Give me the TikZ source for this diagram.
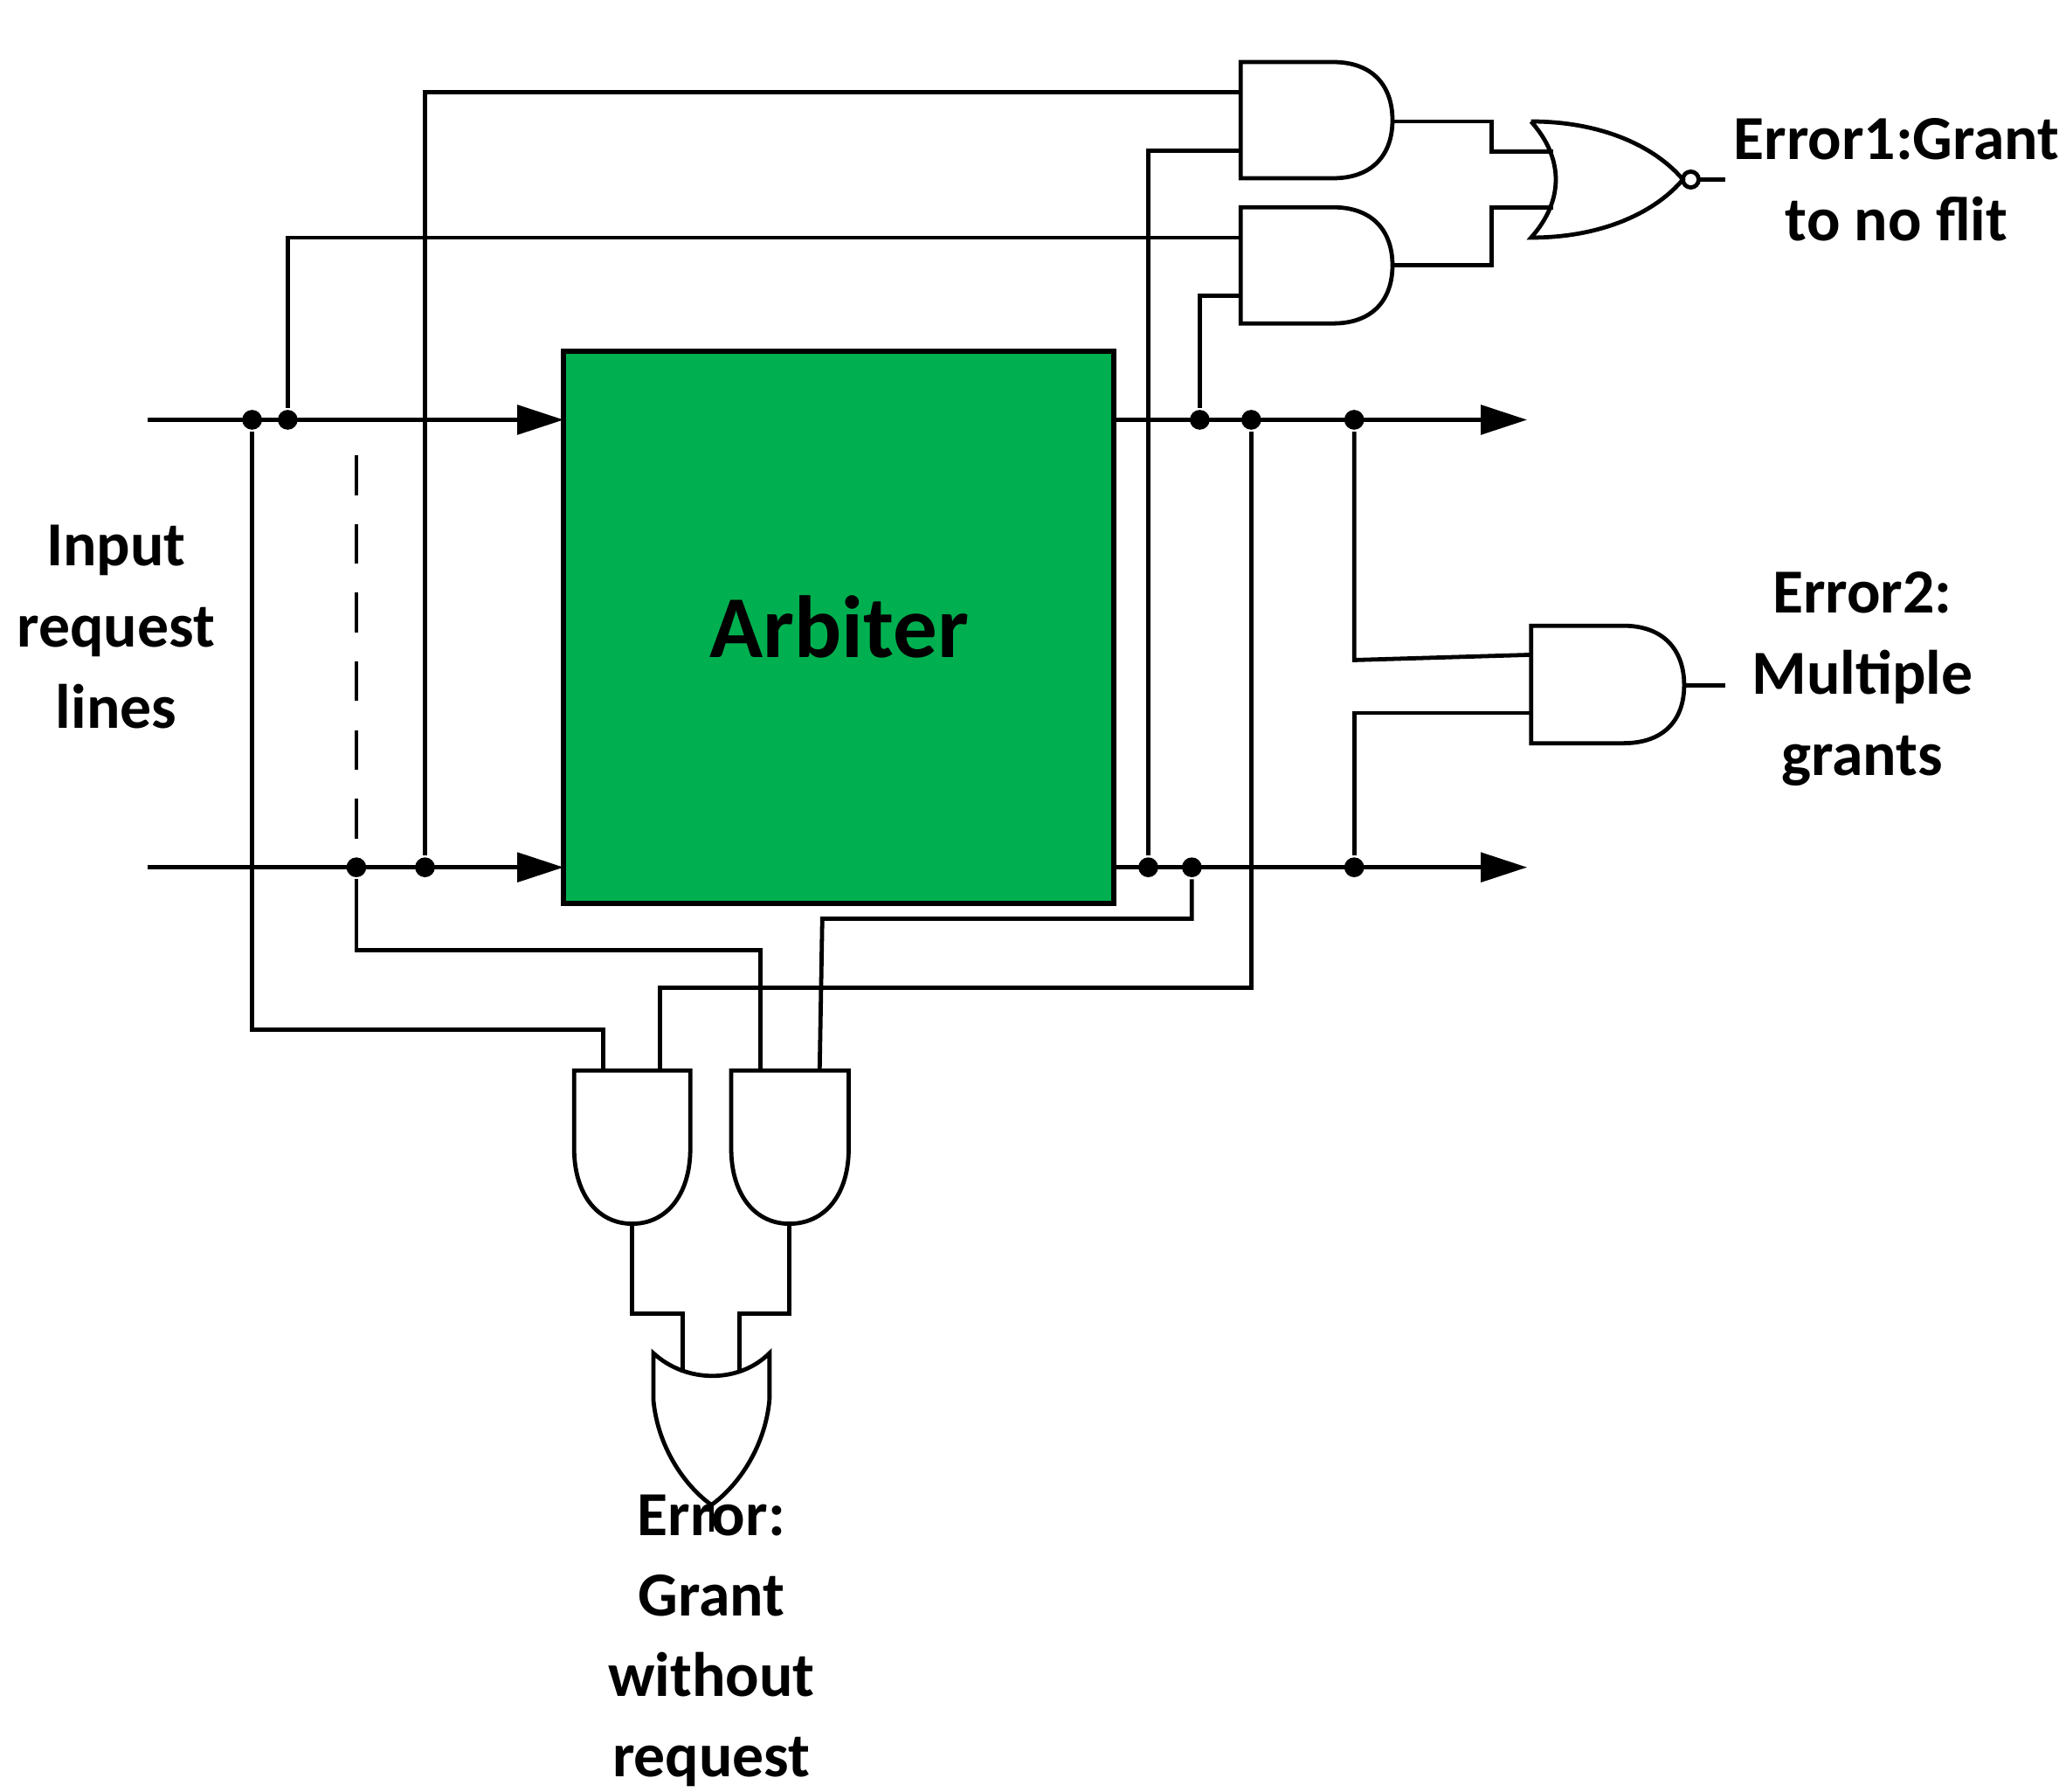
\documentclass[tikz,border=0pt]{standalone}
\usepackage{fontspec}
\setmainfont{Carlito}
\usetikzlibrary{arrows.meta}
\begin{document}
\begin{tikzpicture}[x=0.01cm,y=-0.01cm,line width=0.9pt,
  w/.style={line width=0.9pt},
  arr/.style={-{Triangle[length=0.35cm,width=0.22cm]}},
  dot/.style={circle,fill=black,inner sep=0pt,minimum size=0.15cm},
  lbl/.style={font=\bfseries\fontsize{13.5}{17.5}\selectfont,align=center}]
\useasboundingbox (0,0) rectangle (1560,1357);
% arbiter
\node[draw,fill={rgb,255:red,0;green,176;blue,80},minimum width=4.17cm,minimum height=4.18cm,line width=1.1pt] (arb) at (635.5,475) {};
\node[font=\bfseries\fontsize{19}{23}\selectfont] (arbt) at (636,475) {Arbiter};
% main lines
\coordinate (inA) at (112,318); \coordinate (inB) at (112,657);
\draw[arr] (inA) -- (427,318);
\draw[arr] (inB) -- (427,657);
\draw[arr] (844,318) -- (1157,318);
\draw[arr] (844,657) -- (1157,657);
\draw[dash pattern=on 0.3cm off 0.22cm] (270,345) -- (270,640);
% dots
\foreach \n/\x/\y in {d1/191/318,d2/218/318,d3/909/318,d4/948/318,d5/1026/318,
  d6/270/657,d7/322/657,d8/870/657,d9/903/657,d10/1026/657}
  \node[dot] (\n) at (\x,\y) {};
% AND gates top
\draw (940,47) -- (1010,47) .. controls (1040,47) and (1055,65) .. (1055,91) .. controls (1055,117) and (1040,135) .. (1010,135) -- (940,135) -- cycle;
\draw (940,157) -- (1010,157) .. controls (1040,157) and (1055,175) .. (1055,201) .. controls (1055,227) and (1040,245) .. (1010,245) -- (940,245) -- cycle;
% NOR
\draw (1160,92) .. controls (1185,120) and (1185,152) .. (1160,180)
  .. controls (1215,180) and (1255,160) .. (1275,136)
  .. controls (1255,112) and (1215,92) .. (1160,92);
\draw (1281,136) circle[radius=6];
\draw (1287,136) -- (1307,136);
\draw (1055,92) -- (1130,92) -- (1130,115) -- (1177,115);
\draw (1055,201) -- (1130,201) -- (1130,157) -- (1177,157);
\draw (d7) -- (322,70) -- (940,70);
\draw (d8) -- (870,114) -- (940,114);
\draw (d2) -- (218,180) -- (940,180);
\draw (d3) -- (909,224) -- (940,224);
\node[lbl] (e1) at (1437,136) {Error1:Grant\\to no flit};
% AND error2
\draw (1160,474) -- (1230,474) .. controls (1260,474) and (1276,492) .. (1276,519) .. controls (1276,546) and (1260,563) .. (1230,563) -- (1160,563) -- cycle;
\draw (1276,519) -- (1307,519);
\draw (d5) -- (1026,500) -- (1160,496);
\draw (d10) -- (1026,540) -- (1160,540);
\node[lbl] (e2) at (1411,514) {Error2:\\Multiple\\grants};
% bottom ANDs
\draw (435,811) -- (523,811) -- (523,870) .. controls (523,905) and (505,927) .. (479,927) .. controls (453,927) and (435,905) .. (435,870) -- cycle;
\draw (554,811) -- (643,811) -- (643,870) .. controls (643,905) and (625,927) .. (598,927) .. controls (572,927) and (554,905) .. (554,870) -- cycle;
\draw (d1) -- (191,780) -- (457,780) -- (457,811);
\draw (d4) -- (948,748) -- (500,748) -- (500,811);
\draw (d6) -- (270,720) -- (576,720) -- (576,811);
\draw (d9) -- (903,696) -- (623,696) -- (621,811);
% OR bottom
\draw (495,1025) .. controls (520,1048) and (560,1048) .. (583,1025)
  -- (583,1060) .. controls (580,1095) and (560,1125) .. (539,1140)
  .. controls (518,1125) and (498,1095) .. (495,1060) -- cycle;
\draw (479,927) -- (479,995) -- (517,995) -- (517,1040);
\draw (598,927) -- (598,995) -- (560,995) -- (560,1040);
\draw (539,1140) -- (539,1160);
\node[lbl,font=\bfseries\fontsize{13.5}{17.3}\selectfont] (e3) at (539,1243) {Error:\\Grant\\without\\request};
\node[lbl] (inl) at (88,475) {Input\\request\\lines};
\end{tikzpicture}
\end{document}
